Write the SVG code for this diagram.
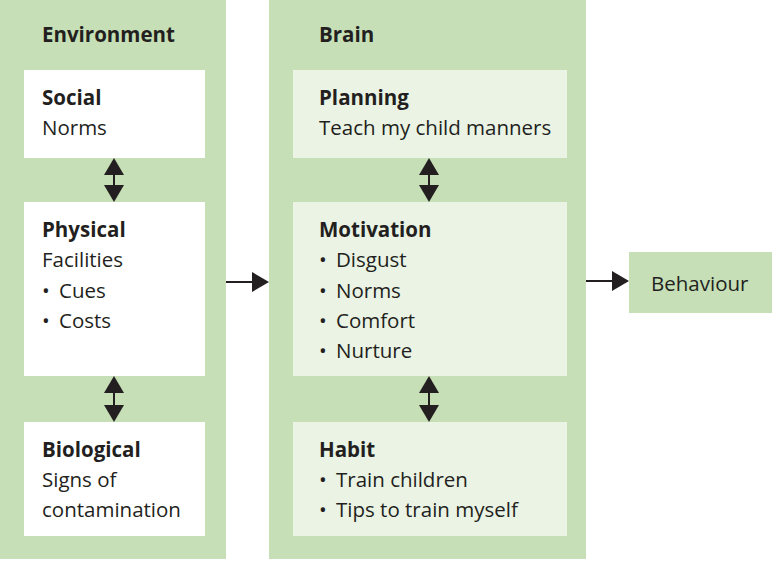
<svg xmlns="http://www.w3.org/2000/svg" width="772" height="562" viewBox="0 0 772 562">
<defs>
<style>
.panel{fill:#c6dfb6}
.wbox{fill:#ffffff}
.lbox{fill:#eaf3e4}
text{font-family:"Open Sans","Noto Sans",sans-serif;font-size:20.5px;fill:#231f20}
.b{font-weight:bold}
.ln{stroke:#231f20;stroke-width:2;fill:none}
.hd{fill:#231f20}
</style>
</defs>
<rect width="772" height="562" fill="#ffffff"/>
<g id="environment">
<rect class="panel" x="0" y="0" width="226" height="559"/>
<text class="b" x="42" y="42">Environment</text>
</g>
<g id="social">
<rect class="wbox" x="24" y="70" width="181" height="88"/>
<text class="b" x="42" y="105">Social</text>
<text x="42" y="135">Norms</text>
</g>
<g id="physical">
<rect class="wbox" x="24" y="202" width="181" height="174"/>
<text class="b" x="42" y="237">Physical</text>
<text x="42" y="267">Facilities</text>
<text x="42" y="298">•<tspan x="59">Cues</tspan></text>
<text x="42" y="328">•<tspan x="59">Costs</tspan></text>
</g>
<g id="biological">
<rect class="wbox" x="24" y="422" width="181" height="114"/>
<text class="b" x="42" y="457">Biological</text>
<text x="42" y="487">Signs of</text>
<text x="42" y="517">contamination</text>
</g>
<g id="brain">
<rect class="panel" x="269" y="0" width="317" height="559"/>
<text class="b" x="319" y="42">Brain</text>
</g>
<g id="planning">
<rect class="lbox" x="293" y="70" width="274" height="88"/>
<text class="b" x="319" y="105">Planning</text>
<text x="319" y="135">Teach my child manners</text>
</g>
<g id="motivation">
<rect class="lbox" x="293" y="202" width="274" height="174"/>
<text class="b" x="319" y="237">Motivation</text>
<text x="319" y="267">•<tspan x="336">Disgust</tspan></text>
<text x="319" y="298">•<tspan x="336">Norms</tspan></text>
<text x="319" y="328">•<tspan x="336">Comfort</tspan></text>
<text x="319" y="358">•<tspan x="336">Nurture</tspan></text>
</g>
<g id="habit">
<rect class="lbox" x="293" y="422" width="274" height="114"/>
<text class="b" x="319" y="457">Habit</text>
<text x="319" y="487">•<tspan x="336">Train children</tspan></text>
<text x="319" y="517">•<tspan x="336">Tips to train myself</tspan></text>
</g>
<g id="behaviour">
<rect class="panel" x="629" y="252" width="143" height="61"/>
<text x="651" y="291">Behaviour</text>
</g>
<g id="connectors">
<line class="ln" x1="114" y1="170" x2="114" y2="190"/>
<polygon class="hd" points="114,158 104,175 124,175"/>
<polygon class="hd" points="114,202 104,185 124,185"/>
<line class="ln" x1="114" y1="388" x2="114" y2="410"/>
<polygon class="hd" points="114,376 104,393 124,393"/>
<polygon class="hd" points="114,422 104,405 124,405"/>
<line class="ln" x1="429" y1="170" x2="429" y2="190"/>
<polygon class="hd" points="429,158 419,175 439,175"/>
<polygon class="hd" points="429,202 419,185 439,185"/>
<line class="ln" x1="429" y1="388" x2="429" y2="410"/>
<polygon class="hd" points="429,376 419,393 439,393"/>
<polygon class="hd" points="429,422 419,405 439,405"/>
<line class="ln" x1="226" y1="282" x2="255" y2="282"/>
<polygon class="hd" points="269,282 252,272 252,292"/>
<line class="ln" x1="586" y1="281" x2="615" y2="281"/>
<polygon class="hd" points="629,281 612,271 612,291"/>
</g>
</svg>
